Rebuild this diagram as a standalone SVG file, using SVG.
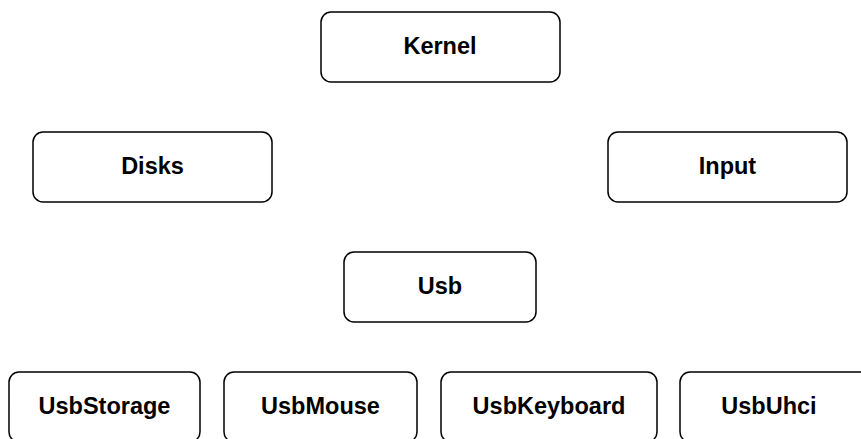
<svg xmlns="http://www.w3.org/2000/svg" width="861" height="439" viewBox="0 0 861 439">
<style>
.box{fill:#fff;stroke:#000;stroke-width:1.5}
.lbl{font-family:"Liberation Sans",Arial,sans-serif;font-weight:bold;font-size:23.5px;fill:#000;text-anchor:middle}
</style>
<rect width="861" height="439" fill="#fff"/>
<g id="connectors"></g>
<g id="kernel"><rect class="box" x="321" y="12" width="239" height="70" rx="10"/><text class="lbl" x="440" y="54">Kernel</text></g>
<g id="disks"><rect class="box" x="33" y="132" width="239" height="70" rx="10"/><text class="lbl" x="152.5" y="174">Disks</text></g>
<g id="input"><rect class="box" x="608" y="132" width="239" height="70" rx="10"/><text class="lbl" x="727.5" y="174">Input</text></g>
<g id="usb"><rect class="box" x="344" y="252" width="192" height="70" rx="10"/><text class="lbl" x="440" y="294">Usb</text></g>
<g id="usbstorage"><rect class="box" x="9" y="372" width="191" height="70" rx="10"/><text class="lbl" x="104.5" y="414">UsbStorage</text></g>
<g id="usbmouse"><rect class="box" x="224" y="372" width="193" height="70" rx="10"/><text class="lbl" x="320.5" y="414">UsbMouse</text></g>
<g id="usbkeyboard"><rect class="box" x="441" y="372" width="216" height="70" rx="10"/><text class="lbl" x="549" y="414">UsbKeyboard</text></g>
<g id="usbuhci"><rect class="box" x="680" y="372" width="190" height="70" rx="10"/><text class="lbl" x="769" y="414">UsbUhci</text></g>
</svg>
